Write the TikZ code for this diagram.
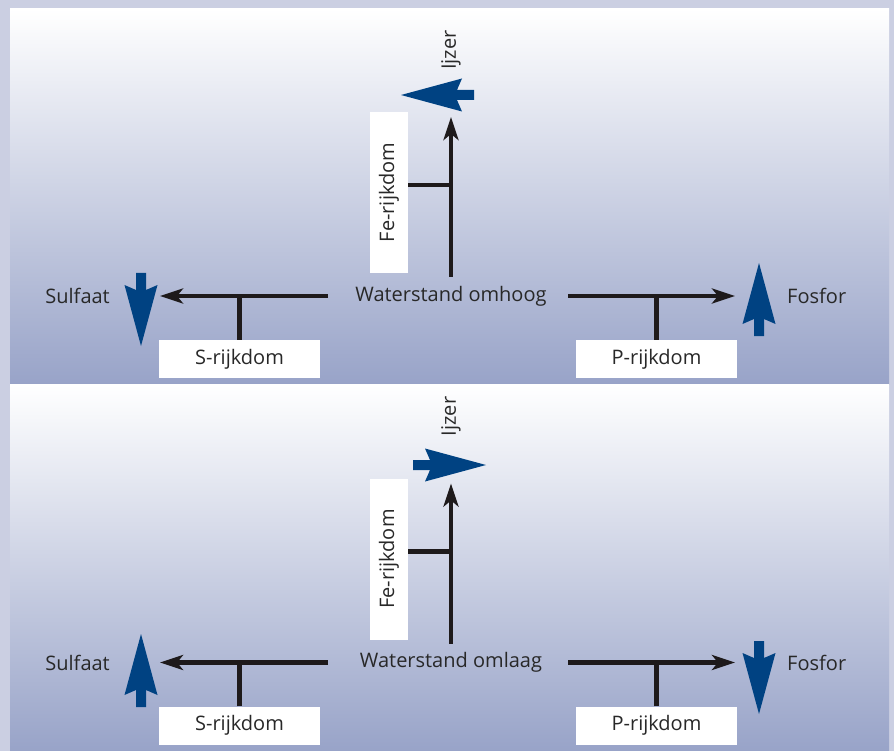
\documentclass[tikz,border=0pt]{standalone}
\usepackage{fontspec}
\setmainfont{Open Sans}
\usetikzlibrary{arrows.meta}
\definecolor{frame}{RGB}{203,207,226}
\definecolor{bot}{RGB}{152,163,200}
\definecolor{navy}{RGB}{0,66,130}
\definecolor{ink}{RGB}{30,26,27}
\definecolor{txt}{RGB}{40,40,40}
\tikzset{
  lbl/.style={font=\fontsize{20}{24}\selectfont, text=txt, inner sep=0pt},
  wbox/.style={fill=white, draw=none, minimum width=161pt, minimum height=38pt, inner sep=0pt, font=\fontsize{20}{24}\selectfont, text=txt},
  conn/.style={draw=ink, line width=4.2pt, -{Stealth[length=23pt,width=15pt,inset=6pt]}},
  bar/.style={draw=ink, line width=4.2pt},
  bigarrow/.style={fill=navy, draw=none}
}
\newcommand\blueArrow[3]{%
  \begin{scope}[shift={(#1,#2)}, rotate=#3]
    \fill[bigarrow] (0,0) -- (-61,-16.5) -- (-56,-5) -- (-73,-5) -- (-73,5) -- (-56,5) -- (-61,16.5) -- cycle;
  \end{scope}}
\newcommand\panelContent[5]{%
  \node[lbl] (w#1) at (451,296) {#2};
  \node[lbl, anchor=east] (su#1) at (110,296) {Sulfaat};
  \node[lbl, anchor=west] (fo#1) at (787,296) {Fosfor};
  \node[lbl, rotate=90] (ij#1) at (451,50) {Ijzer};
  \node[wbox] (S#1) at (239.5,359) {S-rijkdom};
  \node[wbox] (P#1) at (656.5,359) {P-rijkdom};
  \node[wbox, rotate=90] (F#1) at (389,192.5) {Fe-rijkdom};
  \coordinate (lt#1) at (160,296);
  \coordinate (rt#1) at (735,296);
  \coordinate (ut#1) at (451,117);
  \coordinate (lb#1) at (328,296);
  \coordinate (rb#1) at (568,296);
  \coordinate (ub#1) at (451,277);
  \draw[conn] (lb#1) -- (lt#1);
  \draw[conn] (rb#1) -- (rt#1);
  \draw[conn] (ub#1) -- (ut#1);
  \draw[bar] (S#1.north) -- (S#1.north |- lt#1);
  \draw[bar] (P#1.north) -- (P#1.north |- rt#1);
  \draw[bar] ([yshift=7.5pt]F#1.south) -- ([yshift=7.5pt]F#1.south -| ut#1);
  #3#4#5}
\begin{document}
\begin{tikzpicture}[x=1pt,y=-1pt]
\fill[frame] (0,0) rectangle (894,751);
\useasboundingbox (0,0) rectangle (894,751);
\shade[top color=white, bottom color=bot] (10,9) rectangle (889,384.5);
\shade[top color=white, bottom color=bot] (10,384.5) rectangle (889,751);
\panelContent{A}{Waterstand omhoog}{\blueArrow{401}{95}{180}}{\blueArrow{141}{346}{-90}}{\blueArrow{759}{263}{90}}
\begin{scope}[shift={(0,366.5)}]
\panelContent{B}{Waterstand omlaag}{\blueArrow{486}{98.5}{0}}{\blueArrow{141}{267.5}{90}}{\blueArrow{759}{347.5}{-90}}
\end{scope}
\end{tikzpicture}
\end{document}
